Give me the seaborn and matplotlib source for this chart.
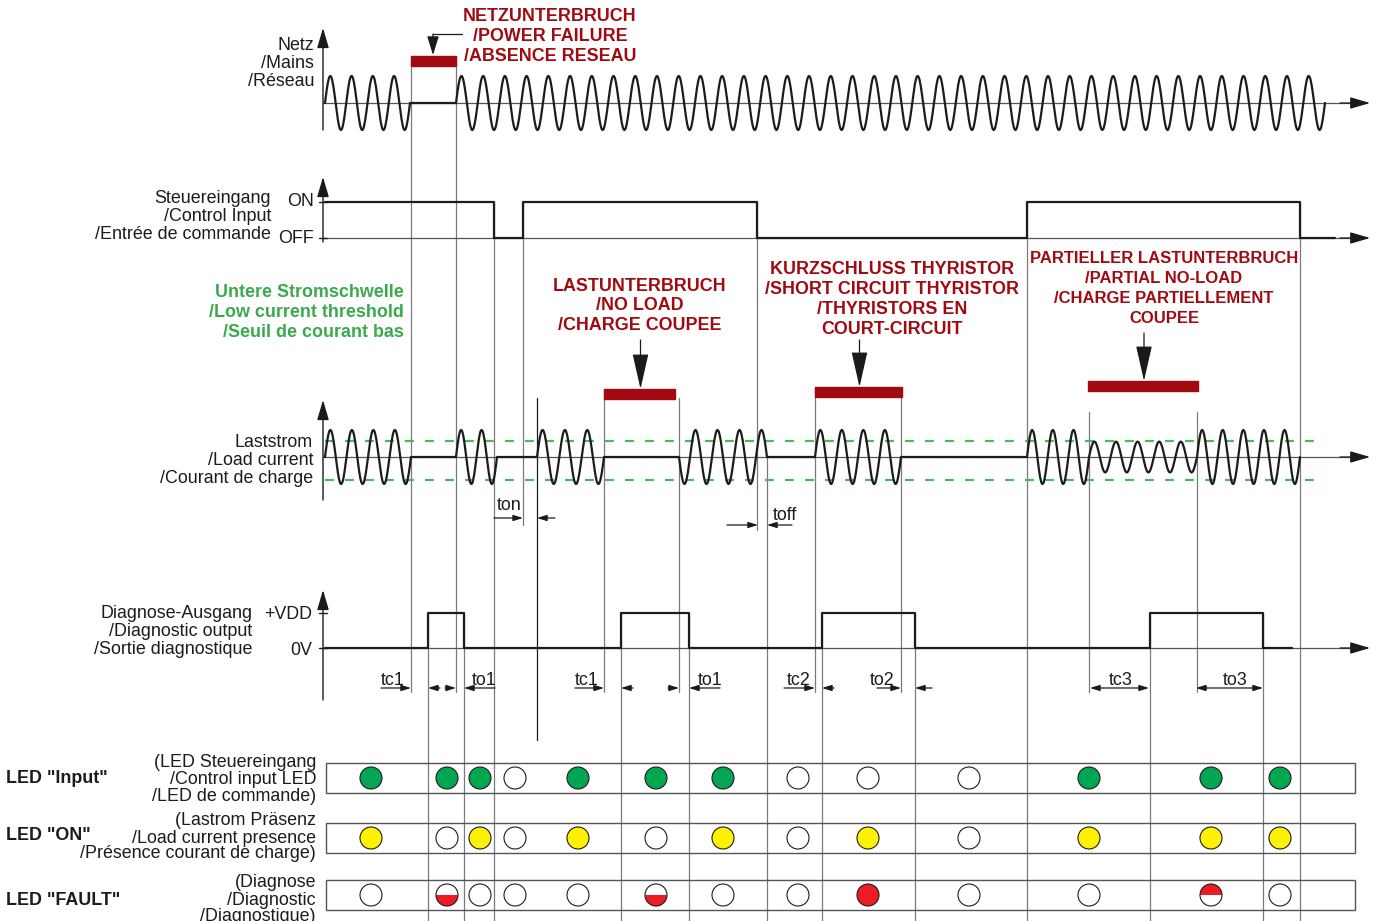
import numpy as np
import pandas as pd
import matplotlib
matplotlib.use("Agg")
import matplotlib.pyplot as plt
from matplotlib.patches import Circle, Wedge, Rectangle
import seaborn as sns

sns.set_theme(style="white")
plt.rcParams['font.family'] = ['Liberation Sans', 'DejaVu Sans']

# time axis is in drawing units, the traces start at 325
# mains: sine segments, 0 cycles = power failure
mains_start = [325, 410, 456]
mains_end = [410, 456, 1325]
mains_cycles = [4, 0, 40]

# control input edges, state between edges (1 = ON)
ctrl_edges = [325, 494, 523, 757, 1027, 1300, 1335]
ctrl_state = [1, 0, 1, 0, 1, 0]

# load current: amp 1 = nominal, 0.57 = partial load, 0 = no current, sign = polarity
load_start = [325, 411, 456, 497, 537, 604, 679, 767, 815, 901, 1027, 1089, 1197]
load_end = [411, 456, 497, 517, 604, 679, 767, 815, 901, 1027, 1089, 1197, 1300]
load_cycles = [4, 0, 2, 0, 3, 0, 4, 0, 4, 0, 3, 5, 5]
load_amp = [1, 0, 1, 0, 1, 0, -1, 0, 1, 0, 1, 0.57, 1]

# diagnostic output
diag_edges = [325, 428, 464, 621, 689, 822, 915, 1150, 1263, 1292]
diag_state = [0, 1, 0, 1, 0, 1, 0, 1, 0]

# fault events (red bars)
fault_start = [411, 604, 815, 1088]
fault_end = [456, 675, 902, 1198]
fault_text = [
    ['NETZUNTERBRUCH', '/POWER FAILURE', '/ABSENCE RESEAU'],
    ['LASTUNTERBRUCH', '/NO LOAD', '/CHARGE COUPEE'],
    ['KURZSCHLUSS THYRISTOR', '/SHORT CIRCUIT THYRISTOR', '/THYRISTORS EN', 'COURT-CIRCUIT'],
    ['PARTIELLER LASTUNTERBRUCH', '/PARTIAL NO-LOAD', '/CHARGE PARTIELLEMENT', 'COUPEE'],
]

# switching delays of the diagnostic output
delay_names = ['tc1', 'to1', 'tc1', 'to1', 'tc2', 'to2', 'tc3', 'to3']
delay_from = [411, 456, 604, 679, 815, 901, 1090, 1196]
delay_to = [428, 464, 621, 689, 822, 915, 1149, 1263]

# LED states: G green, Y yellow, R red, RB red lower half, RT red upper half, O off
led_x = [371, 447, 480, 515, 578, 656, 723, 798, 868, 969, 1089, 1211, 1280]
led_input = ['G', 'G', 'G', 'O', 'G', 'G', 'G', 'O', 'O', 'O', 'G', 'G', 'G']
led_on = ['Y', 'O', 'Y', 'O', 'Y', 'O', 'Y', 'O', 'Y', 'O', 'Y', 'Y', 'Y']
led_fault = ['O', 'RB', 'O', 'O', 'O', 'RB', 'O', 'O', 'R', 'O', 'O', 'RT', 'O']

# ---- layout ----
DARKRED = '#a00a10'
GREEN_TXT = '#3aaa4a'
GRID = '#7a7a7a'
INK = '#1c1c1c'
FS = 12.9
DY = 1.5  # text centre offset
LED_COL = {'G': '#00a651', 'Y': '#fff200', 'R': '#ed1c24', 'O': 'white'}

Y_MAINS, A_MAINS = 103, 27
Y_ON, Y_OFF = 202, 238
Y_LOAD, A_LOAD = 457, 27
Y_HI, Y_LO = 613, 648
Y_LED = [778, 838, 895]

fig = plt.figure(figsize=(13.78, 9.21), dpi=100)
ax = fig.add_axes([0, 0, 1, 1])


def sine_df(starts, ends, cycles, amps, base, height):
    xs, ys = [], []
    for s, e, c, a in zip(starts, ends, cycles, amps):
        x = np.linspace(s, e, max(2, int(c * 40)))
        y = base - height * a * np.sin(2 * np.pi * c * (x - s) / (e - s))
        xs.extend(x)
        ys.extend(y)
    return pd.DataFrame({'x': xs, 'y': ys})


def step_df(edges, states, lo, hi):
    xs, ys = [], []
    for i, st in enumerate(states):
        lvl = hi if st else lo
        xs += [edges[i], edges[i + 1]]
        ys += [lvl, lvl]
    return pd.DataFrame({'x': xs, 'y': ys})


def arrow(x0, y0, x1, y1, hl=8, hw=5, lw=0.9, color='k', style='-|>'):
    ax.annotate('', xy=(x1, y1), xytext=(x0, y0),
                arrowprops=dict(arrowstyle=f'{style},head_length={hl / 1.39},head_width={hw / 2.78}',
                                mutation_scale=1, lw=lw, color=color,
                                shrinkA=0, shrinkB=0))


def label(x, y, txt, **kw):
    kw.setdefault('fontsize', FS)
    kw.setdefault('color', INK)
    kw.setdefault('va', 'center')
    ax.text(x, y + DY, txt, **kw)


# guide lines (x, top, bottom, colour)
guides = [(x, 56, 692, GRID) for x in (fault_start[0], fault_end[0])]
guides += [(x, Y_ON, b, GRID) for x, b in zip(ctrl_edges[1:6], [921, 525, 530, 921, 921])]
guides += [(load_start[4], 398, 740, INK),
           (fault_start[1], 389, 692, GRID), (load_start[6], 398, 692, GRID),
           (load_end[6], Y_LOAD, 921, GRID),
           (fault_start[2], 387, 692, GRID), (load_end[8], 387, 692, GRID),
           (load_start[11], 412, 692, GRID), (load_end[11], 412, 692, GRID)]
guides += [(x, Y_HI, 921, GRID) for x in diag_edges[1:9]]
for x, t, b, c in guides:
    ax.plot([x, x], [t, b], color=c, lw=0.9, zorder=1)

# axes of the four traces
for y_axis, top, bottom in [(Y_MAINS, 28, 130), (Y_OFF, 177, 242), (Y_LOAD, 400, 500), (Y_LO, 590, 700)]:
    arrow(323, bottom, 323, top, hl=17, hw=10, lw=1.0)
    ax.plot([323, 1352], [y_axis, y_axis], color='#555555', lw=0.9, zorder=1)
    arrow(1340, y_axis, 1370, y_axis, hl=17, hw=10, lw=0.9)
for yt in (Y_ON, Y_OFF, Y_HI, Y_LO):
    ax.plot([319, 327], [yt, yt], color=INK, lw=1.0)

# thresholds
for yt in (441, 480):
    ax.plot([325, 1325], [yt, yt], color='#4cb85c', lw=1.6, dashes=(4, 5), zorder=1)

# waveforms
waves = [sine_df(mains_start, mains_end, mains_cycles, [1, 0, 1], Y_MAINS, A_MAINS),
         step_df(ctrl_edges, ctrl_state, Y_OFF, Y_ON),
         sine_df(load_start, load_end, load_cycles, load_amp, Y_LOAD, A_LOAD),
         step_df(diag_edges, diag_state, Y_LO, Y_HI)]
for df in waves:
    sns.lineplot(data=df, x='x', y='y', sort=False, estimator=None,
                 color=INK, lw=1.6, ax=ax, zorder=3)

# fault bars, arrows and captions
bar_y = [(56, 66), (389, 399), (387, 397), (381, 391)]
for s, e, (t, b) in zip(fault_start, fault_end, bar_y):
    ax.add_patch(Rectangle((s, t), e - s, b - t, color=DARKRED, zorder=4))
ax.plot([462, 433], [34, 34], color=INK, lw=0.9)
arrow(433, 34, 433, 55, hl=16, hw=10)
for (s, e), (t, b), top in zip(zip(fault_start[1:], fault_end[1:]), bar_y[1:], [340, 340, 333]):
    arrow((s + e) / 2 + 1, top, (s + e) / 2 + 1, t, hl=31, hw=14)

caption_pos = [(550, [15, 35, 55], FS), (640, [285, 304, 324], FS),
               (892, [268, 288, 308, 328], FS), (1164, [257, 277, 297, 317], 12.0)]
for lines, (cx, ys, fs) in zip(fault_text, caption_pos):
    for txt, yy in zip(lines, ys):
        label(cx, yy, txt, color=DARKRED, fontsize=fs, fontweight='bold', ha='center')

for txt, yy in zip(['Untere Stromschwelle', '/Low current threshold', '/Seuil de courant bas'],
                   [291, 311, 331]):
    label(404, yy, txt, color=GREEN_TXT, fontweight='bold', ha='right')

# trace labels
labels = [(['Netz', '/Mains', '/Réseau'], 314, [44, 62, 80]),
          (['Steuereingang', '/Control Input', '/Entrée de commande'], 271, [197, 215, 233]),
          (['Laststrom', '/Load current', '/Courant de charge'], 313, [441, 459, 477]),
          (['Diagnose-Ausgang', '/Diagnostic output', '/Sortie diagnostique'], 252, [612, 630, 648])]
for lines, xr, ys in labels:
    for txt, yy in zip(lines, ys):
        label(xr, yy, txt, ha='right')
for txt, xr, yy in [('ON', 314, 200), ('OFF', 314, 237), ('+VDD', 312, 613), ('0V', 312, 649)]:
    label(xr, yy, txt, ha='right')

# ton / toff
label(509, 504, 'ton', ha='center')
arrow(494, 518, ctrl_edges[2], 518)
arrow(555, 518, load_start[4], 518)
label(785, 514, 'toff', ha='center')
arrow(727, 525, ctrl_edges[3] + 1, 525)
arrow(792, 525, load_end[6], 525)

# delay arrows
label_x = [393, 484, 587, 710, 799, 882, 1121, 1235]
tail_left = [381, 445, 575, 668, 784, 877]
tail_right = [440, 495, 633, 720, 834, 932]
for i, name in enumerate(delay_names):
    label(label_x[i], 679, name, ha='center')
    if i < 6:
        arrow(tail_left[i], 688, delay_from[i], 688)
        arrow(tail_right[i], 688, delay_to[i], 688)
    else:
        arrow(delay_from[i], 688, delay_to[i], 688, style='<|-|>')

# LED table
led_rows = [('LED "Input"', 777, ['(LED Steuereingang', '/Control input LED', '/LED de commande)'],
             [761, 778, 795], led_input),
            ('LED "ON"', 834, ['(Lastrom Präsenz', '/Load current presence', '/Présence courant de charge)'],
             [819, 837, 852], led_on),
            ('LED "FAULT"', 899, ['(Diagnose', '/Diagnostic', '/Diagnostique)'],
             [881, 899, 915], led_fault)]
for (name, ny, desc, ys, states), yc in zip(led_rows, Y_LED):
    label(6, ny, name, fontweight='bold', ha='left')
    for txt, yy in zip(desc, ys):
        label(316, yy, txt, ha='right')
    ax.add_patch(Rectangle((326, yc - 15), 1355 - 326, 30, fill=False, ec='#555555', lw=1.0, zorder=2))
    for x, st in zip(led_x, states):
        if st in ('RB', 'RT'):
            ax.add_patch(Circle((x, yc), 11, fc='white', ec='none', zorder=4))
            th = (0, 180) if st == 'RB' else (180, 360)
            ax.add_patch(Wedge((x, yc), 11, th[0], th[1], fc=LED_COL['R'], ec='none', zorder=5))
            ax.add_patch(Circle((x, yc), 11, fill=False, ec=INK, lw=0.8, zorder=6))
        else:
            ax.add_patch(Circle((x, yc), 11, fc=LED_COL[st], ec=INK, lw=0.8, zorder=4))

ax.set_xlim(0, 1378)
ax.set_ylim(921, 0)
ax.axis('off')
fig.savefig('out.png', dpi=100)
